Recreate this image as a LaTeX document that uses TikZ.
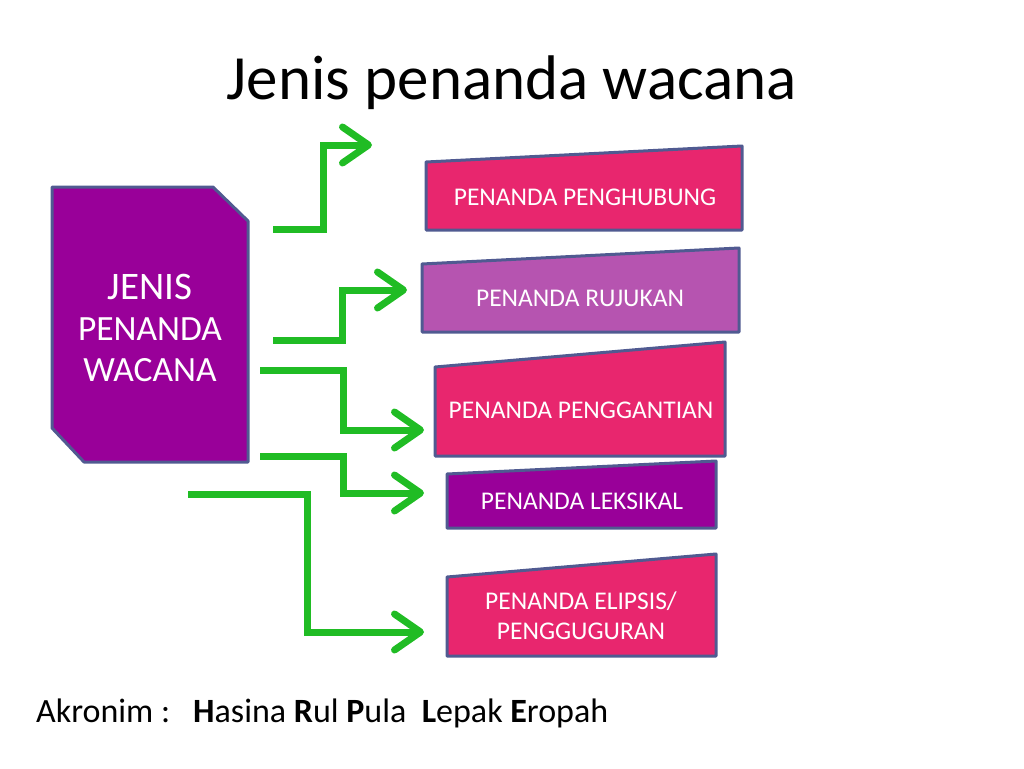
\documentclass[tikz,border=0pt]{standalone}
\usepackage{fontspec}
\setmainfont{Carlito}
\usetikzlibrary{arrows.meta}
\definecolor{pinkbox}{RGB}{232,38,110}
\definecolor{lilacbox}{RGB}{182,84,176}
\definecolor{purplebox}{RGB}{153,0,153}
\definecolor{edgeblue}{RGB}{80,90,145}
\definecolor{arrowgreen}{RGB}{32,188,36}
\tikzset{
  boxshape/.style={draw=edgeblue, line width=3pt, line join=round},
  boxtext/.style={text=white, font=\fontsize{25.5}{30}\selectfont, align=center, inner sep=0pt},
  conn/.style={draw=arrowgreen, line width=7pt, line join=miter, line cap=butt,
    -{Straight Barb[length=26pt,width=36pt,line cap=round,line join=round]}},
}
\begin{document}
\begin{tikzpicture}[x=1pt,y=-1pt]
\useasboundingbox (0,0) rectangle (1024,768);
% title
\node[font=\fontsize{63}{70}\selectfont, inner sep=0pt] (title) at (512,83) {Jenis penanda wacana};
% main box
\filldraw[boxshape, fill=purplebox] (52,187) -- (213,187) -- (248,221) -- (248,462) -- (84,462) -- (52,428) -- cycle;
\node[boxtext, font=\fontsize{35.5}{41}\selectfont] (main) at (150,328) {{\fontsize{39}{41}\selectfont JENIS}\\PENANDA\\WACANA};
% target boxes
\filldraw[boxshape, fill=pinkbox] (426,162) -- (742,146) -- (742,230) -- (426,230) -- cycle;
\node[boxtext] (b1) at (585,197) {PENANDA PENGHUBUNG};
\filldraw[boxshape, fill=lilacbox] (422,264) -- (739,248) -- (739,332) -- (422,332) -- cycle;
\node[boxtext] (b2) at (580,298) {PENANDA RUJUKAN};
\filldraw[boxshape, fill=pinkbox] (435,367) -- (725,342) -- (725,456) -- (435,456) -- cycle;
\node[boxtext] (b3) at (581,410) {PENANDA PENGGANTIAN};
\filldraw[boxshape, fill=purplebox] (447,474) -- (716,461) -- (716,528) -- (447,528) -- cycle;
\node[boxtext] (b4) at (582,501) {PENANDA LEKSIKAL};
\filldraw[boxshape, fill=pinkbox] (447,577) -- (716,554) -- (716,656) -- (447,656) -- cycle;
\node[boxtext] (b5) at (581,616) {PENANDA ELIPSIS/\\PENGGUGURAN};
% connector ends
\coordinate (s1) at (273,229);
\coordinate (e1) at (372,145);
\coordinate (s2) at (273,340);
\coordinate (e2) at (407,290);
\coordinate (s3) at (260,370);
\coordinate (e3) at (424,430);
\coordinate (s4) at (260,456);
\coordinate (e4) at (424,493);
\coordinate (s5) at (188,494);
\coordinate (e5) at (424,632);
% connectors
\draw[conn] (s1) -- (323,229) -- (323,145) -- (e1);
\draw[conn] (s2) -- (342,340) -- (342,290) -- (e2);
\draw[conn] (s3) -- (343,370) -- (343,430) -- (e3);
\draw[conn] (s4) -- (343,456) -- (343,493) -- (e4);
\draw[conn] (s5) -- (307,494) -- (307,632) -- (e5);
% acronym
\node[anchor=base west, inner sep=0pt, font=\fontsize{34}{38}\selectfont] (akr) at (36,722)
  {Akronim :\ \ \ \textbf{H}asina \textbf{R}ul \textbf{P}ula\ \ \textbf{L}epak \textbf{E}ropah};
\end{tikzpicture}
\end{document}
